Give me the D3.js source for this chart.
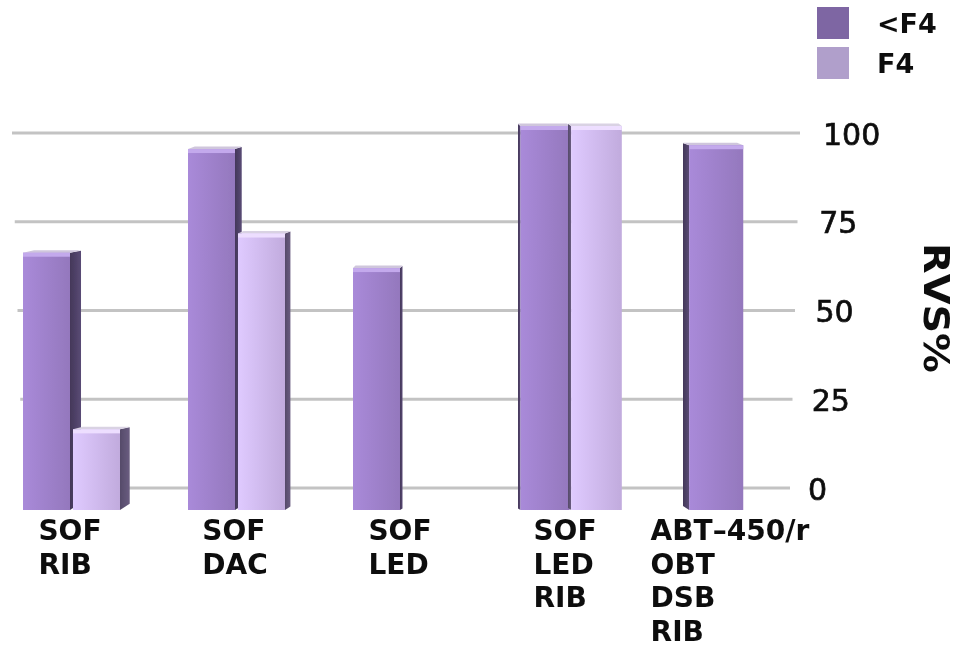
<!DOCTYPE html>
<html>
<head>
<meta charset="utf-8">
<script src="https://cdn.jsdelivr.net/npm/d3@7"></script>
<style>
  html, body { margin: 0; padding: 0; background: #fff; }
  svg { display: block; }
</style>
</head>
<body>
<svg id="chart" width="965" height="646"></svg>
<script>
// Regimens and their (multi-line) axis labels
const categories = ["SOF+RIB", "SOF+DAC", "SOF+LED", "SOF+LED+RIB", "ABT-450/r+OBT+DSB+RIB"];
const categoryLines = [
  ["SOF", "RIB"],
  ["SOF", "DAC"],
  ["SOF", "LED"],
  ["SOF", "LED", "RIB"],
  ["ABT\u2013450/r", "OBT", "DSB", "RIB"]
];
const series = ["<F4", "F4"];
// RVS% by fibrosis stage (null = no bar)
const valuesLtF4 = [67, 94, 63, 100, 95];
const valuesF4   = [21, 72, null, 100, null];
const yTicks = [0, 25, 50, 75, 100];

const svg = d3.select("#chart");
const defs = svg.append("defs");

// Front face of bars (closer to viewer) and back wall (gridlines)
const yFront = d3.scaleLinear().domain([0, 100]).range([510, 126]);
const yBack  = d3.scaleLinear().domain([0, 100]).range([488, 133]);

const x0 = d3.scaleBand().domain(categories).range([23, 848]).paddingInner(0).paddingOuter(0);
const x1 = d3.scaleBand().domain(series).range([0, 100]).padding(0);
const frontW = 47;
const viewX = 470; // horizontal vanishing position for side faces

const palette = {
  "<F4": { f0: "#a98ad9", f1: "#9478bd", side0: "#433759", side1: "#5a4b75", top: "#c3a9ec", rim: "#cfc6dc", legend: "#7e66a3" },
  "F4":  { f0: "#dfcaff", f1: "#c1abdd", side0: "#554a69", side1: "#6a5d80", top: "#eddeff", rim: "#d9d2e3", legend: "#b09fcb" }
};

Object.entries(palette).forEach(([k, c], i) => {
  const g = defs.append("linearGradient").attr("id", "front" + i)
    .attr("x1", "0").attr("x2", "1").attr("y1", "0").attr("y2", "0");
  g.append("stop").attr("offset", "0").attr("stop-color", c.f0);
  g.append("stop").attr("offset", "1").attr("stop-color", c.f1);
  const s = defs.append("linearGradient").attr("id", "side" + i)
    .attr("x1", "0").attr("x2", "1").attr("y1", "0").attr("y2", "0");
  s.append("stop").attr("offset", "0").attr("stop-color", c.side0);
  s.append("stop").attr("offset", "1").attr("stop-color", c.side1);
});

const blur = defs.append("filter").attr("id", "soft").attr("x", "-5%").attr("y", "-5%").attr("width", "110%").attr("height", "110%");
blur.append("feGaussianBlur").attr("stdDeviation", 0.6);

// Gridlines on the back wall, slightly converging with depth
const grid = svg.append("g").attr("class", "grid");
grid.selectAll("line").data(yTicks).join("line")
  .attr("x1", d => 12 + (100 - d) * 0.11)
  .attr("x2", d => 800 - (100 - d) * 0.1)
  .attr("y1", d => yBack(d))
  .attr("y2", d => yBack(d))
  .attr("stroke", "#c3c3c3")
  .attr("stroke-width", 3);

// Tick labels on the right
svg.append("g").selectAll("text").data(yTicks).join("text")
  .attr("x", d => 823 - (100 - d) * 0.15)
  .attr("y", d => yBack(d) + 1)
  .attr("dominant-baseline", "central")
  .attr("font-family", "DejaVu Sans")
  .attr("font-size", 30)
  .attr("fill", "#111")
  .attr("stroke", "#111")
  .attr("stroke-width", 0.7)
  .attr("filter", "url(#soft)")
  .text(d => d);

// Axis title
svg.append("text")
  .attr("transform", "translate(924,308) rotate(90)")
  .attr("text-anchor", "middle")
  .attr("font-family", "DejaVu Sans")
  .attr("font-weight", "bold")
  .attr("font-size", 36)
  .attr("textLength", 130)
  .attr("lengthAdjust", "spacingAndGlyphs")
  .attr("fill", "#111")
  .attr("filter", "url(#soft)")
  .text("RVS%");

// Bars
const barData = [];
categories.forEach((c, i) => {
  [valuesLtF4[i], valuesF4[i]].forEach((v, j) => {
    if (v == null) return;
    barData.push({ cat: c, key: series[j], idx: j, value: v });
  });
});

const bars = svg.append("g").attr("class", "bars").attr("filter", "url(#soft)");
barData.forEach(d => {
  const start = x0(d.cat) + x1(d.key);
  const yb = yFront(0);
  const yt = yFront(d.value);
  const center = start + frontW / 2;
  const s = Math.max(2.5, Math.abs(viewX - center) * 0.026);
  const rightSide = center < viewX;
  const xl = rightSide ? start : start + s;
  const w = frontW + Math.max(0, center - viewX) * 0.03; // nearer bars on the right look a touch wider
  const xr = xl + w;
  const c = palette[d.key];
  const g = bars.append("g");
  // side face
  const sidePts = rightSide
    ? [[xr, yt], [xr + s, yt - 2], [xr + s, yb - s * 0.65], [xr, yb]]
    : [[xl, yt], [xl - s, yt - 2], [xl - s, yb - s * 0.65], [xl, yb]];
  g.append("polygon")
    .attr("points", sidePts.map(p => p.join(",")).join(" "))
    .attr("fill", `url(#side${d.idx})`);
  // top face
  const dx = rightSide ? s : -s;
  g.append("polygon")
    .attr("points", [[xl, yt], [xr, yt], [xr + dx, yt - 2.5], [xl + dx, yt - 2.5]].map(p => p.join(",")).join(" "))
    .attr("fill", c.rim);
  // front face
  g.append("rect")
    .attr("x", xl).attr("y", yt)
    .attr("width", w).attr("height", yb - yt)
    .attr("fill", `url(#front${d.idx})`);
  // highlight along the top edge
  g.append("rect")
    .attr("x", xl).attr("y", yt)
    .attr("width", w).attr("height", 4)
    .attr("fill", c.top);
});

// Category labels (left-aligned lines, block centred under the group)
const labels = svg.append("g").attr("class", "cat-labels").attr("filter", "url(#soft)");
categories.forEach((c, i) => {
  const t = labels.append("text")
    .attr("font-family", "DejaVu Sans")
    .attr("font-weight", "bold")
    .attr("font-size", 28)
    .attr("fill", "#111");
  categoryLines[i].forEach((line, k) => {
    t.append("tspan").attr("x", 0).attr("y", 540 + k * 33.5).text(line);
  });
  const w = t.node().getBBox().width;
  const cx = x0(c) + 45;
  t.attr("transform", `translate(${cx - w / 2 + 2},0)`);
});

// Legend
const legend = svg.append("g").attr("class", "legend");
series.forEach((s, i) => {
  const y = 7 + i * 40;
  legend.append("rect")
    .attr("x", 817).attr("y", y)
    .attr("width", 32).attr("height", 32)
    .attr("fill", palette[s].legend);
  legend.append("text")
    .attr("x", 877).attr("y", y + 16)
    .attr("dominant-baseline", "central")
    .attr("font-family", "DejaVu Sans")
    .attr("font-weight", "bold")
    .attr("font-size", 27)
    .attr("fill", "#111")
    .attr("filter", "url(#soft)")
    .text(s);
});
</script>
</body>
</html>
